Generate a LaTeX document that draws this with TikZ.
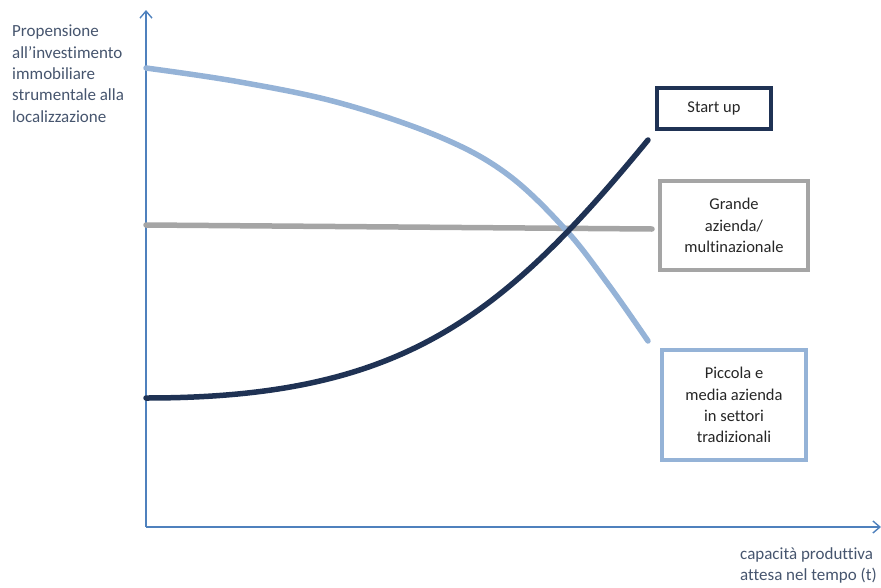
\documentclass[tikz,border=0pt]{standalone}
\usepackage{fontspec}
\setmainfont[Ligatures=NoCommon]{Carlito}
\usetikzlibrary{arrows.meta}
\definecolor{axisblue}{RGB}{79,129,189}
\definecolor{navy}{RGB}{31,50,84}
\definecolor{lightb}{RGB}{149,179,215}
\definecolor{greyl}{RGB}{165,165,165}
\definecolor{txt}{RGB}{70,85,110}
\tikzset{
  axis/.style={draw=axisblue, line width=1.4pt, -{Straight Barb[length=7pt,width=12pt,line width=1.4pt]}},
  curve/.style={line width=5.5pt, line cap=round},
  lbl/.style={font=\fontsize{17}{21.3}\selectfont, text=txt, align=left, inner sep=0pt},
  legbox/.style={line width=3.5pt, fill=white, font=\fontsize{16.5}{21.3}\selectfont, text=black!85, align=center, inner sep=0pt}
}
\begin{document}
\begin{tikzpicture}[x=1pt,y=-1pt]
\useasboundingbox (0,0) rectangle (881,587);
\coordinate (O) at (146,527);
\coordinate (ytop) at (146,10);
\coordinate (xend) at (881,527);
\draw[axis] (O) -- (ytop);
\draw[axis] (O) -- (xend);
% curves
\coordinate (gs) at (146,225);
\coordinate (ge) at (652,229);
\coordinate (ls) at (146,68);
\coordinate (le) at (648,341);
\coordinate (ds) at (146,398);
\coordinate (de) at (648,140);
\draw[curve, draw=greyl] (gs) -- (ge);
\draw[curve, draw=lightb] plot[smooth, tension=0.6] coordinates {(146,68) (240,82) (340,103) (440,137) (507,174) (565,229) (608,284) (648,341)};
\draw[curve, draw=navy] (ds) .. controls (400,398) and (500,320) .. (de);
% labels
\node[lbl, anchor=north west] (ylab) at (12,25) {Propensione\\all’investimento\\immobiliare\\strumentale alla\\localizzazione};
\node[lbl, anchor=north west] (xlab) at (740,547) {capacità produttiva\\attesa nel tempo (t)};
% legend boxes
\node[legbox, draw=navy, minimum width=114pt, minimum height=41pt] (start) at (714,108.5) {Start up};
\node[legbox, draw=greyl, minimum width=148pt, minimum height=89pt] (grande) at (734,225.5) {Grande\\azienda/\\multinazionale};
\node[legbox, draw=lightb, minimum width=144pt, minimum height=110pt] (piccola) at (734,405) {Piccola e\\media azienda\\in settori\\tradizionali};
\end{tikzpicture}
\end{document}
